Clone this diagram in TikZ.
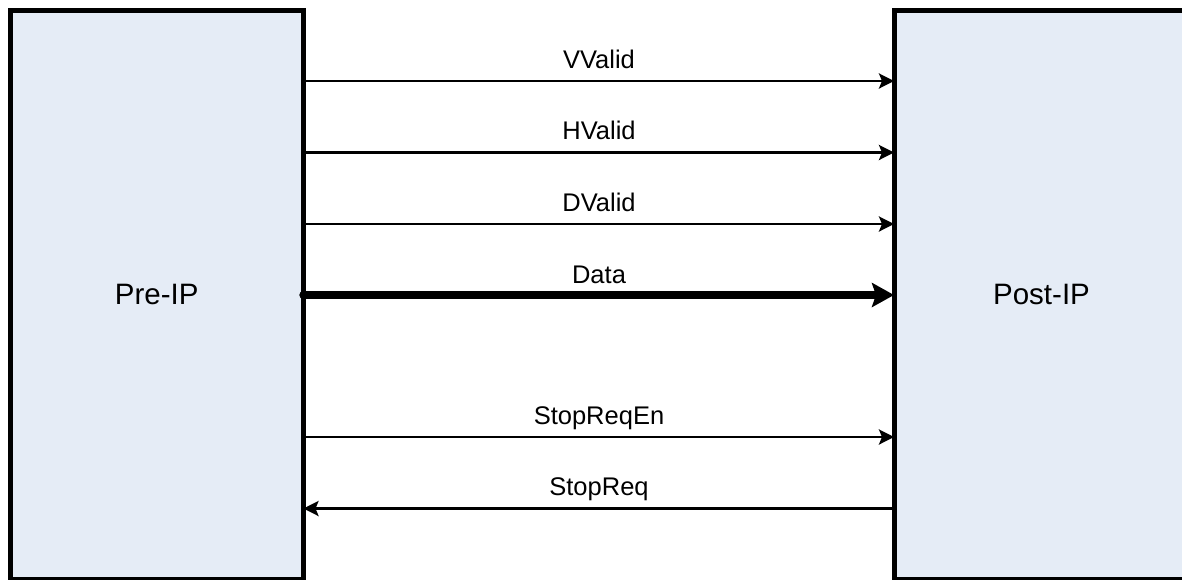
\documentclass[tikz,border=0pt]{standalone}
\usepackage{fontspec}
\setmainfont{Liberation Sans}
\usetikzlibrary{arrows.meta}
\definecolor{boxfill}{RGB}{229,236,246}
\begin{document}
\begin{tikzpicture}[x=1pt,y=-1pt,
  block/.style={draw=black, fill=boxfill, line width=5pt, outer sep=0pt, inner sep=0pt,
                font=\fontsize{29.5}{34}\selectfont},
  sig/.style={line width=2.8pt, -{Stealth[length=15pt,width=15pt,inset=3pt]}},
  bus/.style={line width=8.5pt, line cap=round, -{Stealth[length=22pt,width=24pt,inset=4pt]}},
  lbl/.style={font=\fontsize{25.5}{30}\selectfont, anchor=base, inner sep=0pt}]
\useasboundingbox (0,0) rectangle (1182,579);
\clip (0,0) rectangle (1182,579);
\node[block, minimum width=293.5pt, minimum height=569pt] (pre) at (156.75,294.5) {Pre-IP};
\node[block, minimum width=295pt, minimum height=569pt] (post) at (1041.5,294.5) {Post-IP};
% signal levels
\coordinate (yv) at (0,81);
\coordinate (yh) at (0,152.5);
\coordinate (yd) at (0,224);
\coordinate (ydata) at (0,295);
\coordinate (yse) at (0,437);
\coordinate (ys) at (0,508.5);
% labels
\node[lbl] (lv) at (599,68) {VValid};
\node[lbl] (lh) at (599,139.5) {HValid};
\node[lbl] (ld) at (599,211) {DValid};
\node[lbl] (ldata) at (599,283) {Data};
\node[lbl] (lse) at (599,424) {StopReqEn};
\node[lbl] (ls) at (599,495) {StopReq};
% connectors
\draw[sig] (pre.east |- yv) -- (post.west |- yv);
\draw[sig] (pre.east |- yh) -- (post.west |- yh);
\draw[sig] (pre.east |- yd) -- (post.west |- yd);
\draw[bus] (pre.east |- ydata) -- (post.west |- ydata);
\draw[sig] (pre.east |- yse) -- (post.west |- yse);
\draw[sig] (post.west |- ys) -- (pre.east |- ys);
\end{tikzpicture}
\end{document}
